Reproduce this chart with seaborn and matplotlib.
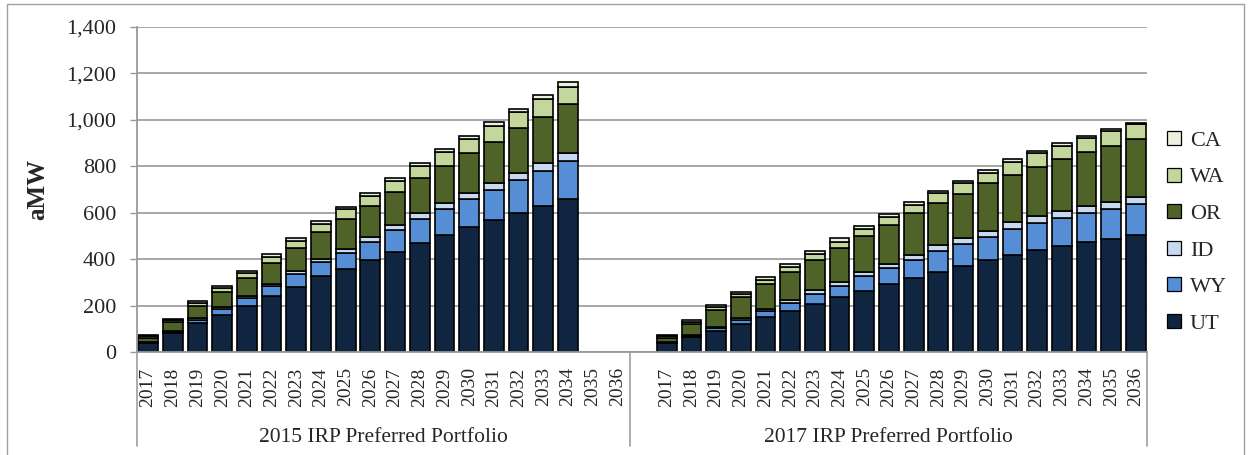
import numpy as np
import pandas as pd
import matplotlib
matplotlib.use("Agg")
import matplotlib.pyplot as plt
import matplotlib.transforms as mtransforms
from matplotlib.lines import Line2D
from matplotlib.patches import Rectangle
import seaborn as sns

# ---- data (aMW by state and year) ----
years = [str(y) for y in range(2017, 2037)]
states = ["CA", "WA", "OR", "ID", "WY", "UT"]
portfolios = ["2015 IRP Preferred Portfolio", "2017 IRP Preferred Portfolio"]

# 2015 IRP preferred portfolio, 2017-2034 (no values for 2035-2036)
irp15_ut = [38, 81, 124, 161, 197, 240, 280, 326, 359, 395, 431, 470, 503, 537, 568, 600, 630, 659]
irp15_wy = [4, 7, 15, 26, 35, 43, 55, 62, 69, 79, 94, 102, 113, 121, 130, 141, 151, 165]
irp15_id = [2, 3, 6, 7, 9, 11, 12, 12, 16, 21, 22, 25, 24, 28, 29, 31, 32, 32]
irp15_or = [17, 38, 52, 64, 78, 91, 103, 117, 131, 135, 144, 151, 163, 170, 179, 192, 201, 212]
irp15_wa = [7, 9, 13, 17, 21, 25, 28, 36, 39, 43, 44, 52, 57, 62, 69, 68, 74, 75]
irp15_ca = [4, 5, 8, 8, 9, 11, 12, 12, 12, 13, 13, 13, 13, 14, 15, 16, 17, 18]

# 2017 IRP preferred portfolio, 2017-2036
irp17_ut = [38, 64, 90, 119, 150, 176, 205, 237, 263, 292, 319, 345, 371, 395, 417, 438, 457, 472, 486, 503]
irp17_wy = [4, 6, 13, 20, 26, 35, 46, 47, 63, 70, 79, 89, 93, 101, 115, 119, 121, 125, 128, 133]
irp17_id = [2, 3, 5, 6, 8, 11, 15, 18, 19, 19, 22, 26, 25, 26, 26, 30, 30, 33, 33, 33]
irp17_or = [17, 49, 74, 92, 111, 123, 132, 148, 154, 168, 177, 180, 190, 205, 204, 211, 224, 231, 242, 249]
irp17_wa = [7, 8, 12, 13, 16, 21, 23, 26, 33, 33, 38, 43, 48, 45, 55, 58, 57, 60, 64, 65]
irp17_ca = [4, 6, 7, 8, 10, 12, 13, 13, 10, 12, 12, 10, 11, 12, 13, 10, 10, 10, 7, 5]

colors = {"CA": "#EBF1DE", "WA": "#C3D69B", "OR": "#4F6228",
          "ID": "#C6D9F1", "WY": "#558ED5", "UT": "#10253F"}

# ---- long table; one empty slot separates the two portfolios ----
series15 = dict(UT=irp15_ut, WY=irp15_wy, ID=irp15_id, OR=irp15_or, WA=irp15_wa, CA=irp15_ca)
series17 = dict(UT=irp17_ut, WY=irp17_wy, ID=irp17_id, OR=irp17_or, WA=irp17_wa, CA=irp17_ca)
rows = []
for offset, series in ((0, series15), (len(years) + 1, series17)):
    for st, vals in series.items():
        for i, v in enumerate(vals):
            rows.append({"pos": offset + i, "state": st, "aMW": v})
df = pd.DataFrame(rows)

tick_pos = list(range(len(years))) + [len(years) + 1 + i for i in range(len(years))]
tick_lab = years + years

# ---- figure ----
sns.set_theme(style="white")
plt.rcParams["font.family"] = ["Liberation Serif", "DejaVu Serif"]

fig = plt.figure(figsize=(12.5, 4.55), dpi=100)
ax = fig.add_axes([137 / 1250, 1 - 352 / 455, (1147 - 137) / 1250, (352 - 27) / 455])

sns.histplot(data=df, x="pos", weights="aMW", hue="state", hue_order=states,
             multiple="stack", discrete=True, shrink=0.8, palette=colors,
             edgecolor="black", linewidth=1.2, alpha=1, legend=False, ax=ax)

# drop empty bins (years without values and the gap slot)
for p in list(ax.patches):
    if p.get_height() == 0:
        p.remove()

ax.set_ylim(0, 1400)
ax.set_xlim(-0.45, 40.45)
ax.set_yticks(np.arange(0, 1401, 200))
ax.set_yticklabels([f"{v:,}" for v in range(0, 1401, 200)], fontsize=16)
ax.set_xticks(tick_pos)
ax.set_xticklabels(tick_lab, rotation=90, fontsize=14)
ax.tick_params(axis="x", length=0, pad=11)
ax.tick_params(axis="y", length=5, width=1, color="#999999", direction="out", pad=10, left=True)
ax.set_xlabel("")
ax.set_ylabel("aMW", fontsize=18, fontweight="bold", labelpad=12)

ax.yaxis.grid(True, color="#A6A6A6", linewidth=1.4)
ax.set_axisbelow(True)
for side in ("top", "right"):
    ax.spines[side].set_visible(False)
for side in ("left", "bottom"):
    ax.spines[side].set_color("#999999")
    ax.spines[side].set_linewidth(1.3)

# portfolio group labels with separators under the axis
trans = mtransforms.blended_transform_factory(ax.transData, ax.transAxes)
seps = [-0.45, len(years) - 0.5, 40.45]
for xs in seps:
    ax.plot([xs, xs], [0, -0.29], transform=trans, color="#A6A6A6",
            linewidth=1.3, clip_on=False)
for name, (a, b) in zip(portfolios, [(seps[0], seps[1]), (seps[1], seps[2])]):
    ax.text((a + b) / 2, -0.262, name, transform=trans, ha="center", va="center",
            fontsize=15.5)

# legend, top to bottom in stacking order
handles = [Line2D([], [], linestyle="none", marker="s", markersize=10,
                  markerfacecolor=colors[s], markeredgecolor="black",
                  markeredgewidth=0.9, label=s) for s in states]
fig.legend(handles=handles, loc="center left", bbox_to_anchor=(1152 / 1250, 1 - 232 / 455),
           frameon=False, fontsize=16, labelspacing=0.72, handletextpad=0.1,
           handlelength=1.2, borderaxespad=0)

# thin outer frame
fig.patches.append(Rectangle((7 / 1250, -0.05), (1244 - 7) / 1250, 1.05 - 4 / 455,
                             transform=fig.transFigure, fill=False,
                             edgecolor="#A0A0A0", linewidth=1))

fig.savefig("out.png", dpi=100)
